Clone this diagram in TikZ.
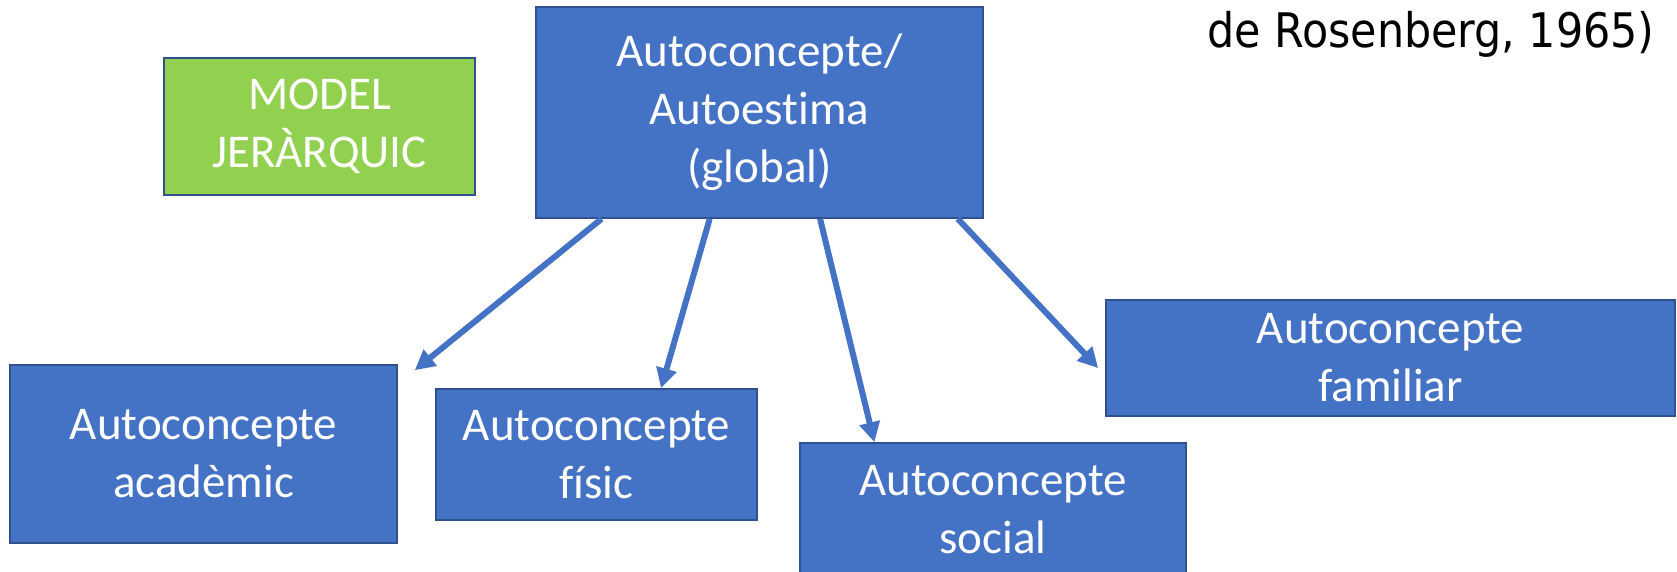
\documentclass[tikz,border=0pt]{standalone}
\usepackage{fontspec}
\setmainfont{Carlito}[Ligatures={NoCommon,NoContextual}]
\newfontfamily\citefont{DejaVu Sans Condensed}
\usetikzlibrary{arrows.meta,calc}
\definecolor{boxblue}{HTML}{4472C4}
\definecolor{edgeblue}{HTML}{2F528F}
\definecolor{boxgreen}{HTML}{92D050}
\begin{document}
\begin{tikzpicture}[x=0.5pt,y=-0.5pt,
  box/.style={draw=edgeblue,line width=0.8pt,fill=boxblue,text=white,
    align=center,inner sep=0pt,font=\fontsize{23.5}{29}\selectfont},
  link/.style={draw=boxblue,line width=3pt,
    -{Triangle[length=10pt,width=10pt]}}]
\useasboundingbox (0,0) rectangle (1677,572);
\clip (0,0) rectangle (1677,572);

% hierarchy boxes
\node[box,minimum width=223.5pt,minimum height=105.5pt] (glob) at (759.5,112.5)
  {Autoconcepte/\\Autoestima\\(global)};
\node[box,fill=boxgreen,minimum width=155.5pt,minimum height=68.5pt] (model) at (319.5,126.5)
  {MODEL\\JERÀRQUIC};
\node[box,minimum width=193.5pt,minimum height=89pt] (acad) at (203.5,454)
  {Autoconcepte\\acadèmic};
\node[box,minimum width=160.5pt,minimum height=65.5pt] (fisic) at (596.5,454.5)
  {Autoconcepte\\físic};
\node[box,minimum width=193pt,minimum height=66.5pt] (social) at (993,509.5)
  {Autoconcepte\\social};
\node[box,minimum width=284.5pt,minimum height=58pt] (famil) at (1390.5,358)
  {Autoconcepte\\familiar};

% citation fragment
\node[anchor=base east,inner sep=0pt,font=\citefont\fontsize{23.8}{28}\selectfont]
  (cite) at (1655,48) {de Rosenberg, 1965)};

% arrow ends
\coordinate (acadTip) at ($(acad.north east)+(17,6)$);
\coordinate (famTip) at ($(famil.north west)!0.586!(famil.south west)+(-7,0)$);

% connectors
\draw[link] ($(glob.south west)!0.148!(glob.south east)$) -- (acadTip);
\draw[link] ($(glob.south west)!0.389!(glob.south east)$) -- ($(fisic.north west)!0.70!(fisic.north east)$);
\draw[link] ($(glob.south west)!0.635!(glob.south east)$) -- ($(social.north west)!0.194!(social.north east)$);
\draw[link] ($(glob.south west)!0.942!(glob.south east)$) -- (famTip);
\end{tikzpicture}
\end{document}
